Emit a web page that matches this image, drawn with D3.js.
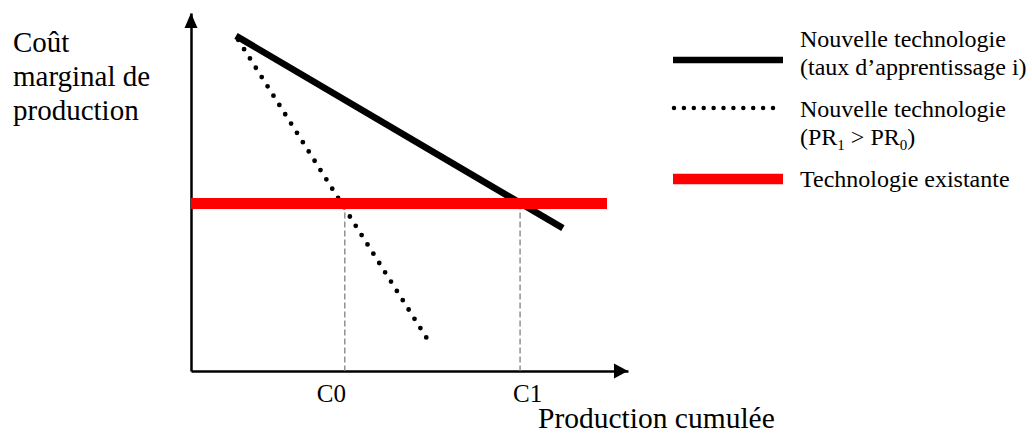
<!DOCTYPE html>
<html>
<head>
<meta charset="utf-8">
<script src="https://cdn.jsdelivr.net/npm/d3@7"></script>
<style>
  body { margin: 0; background: #fff; }
  text { font-family: "Liberation Serif", "Times New Roman", serif; fill: #000; }
</style>
</head>
<body>
<div id="chart"></div>
<script>
// values (abstract units, axis 0..10)
var xTicks = [3.52, 7.53];
var xTickLabels = ["C0", "C1"];
var newTech = [[1.03, 9.36], [8.51, 3.99]];        // taux d'apprentissage i
var newTechPR = [[1.08, 9.25], [5.45, 0.81]];      // PR1 > PR0
var existingTech = [[0, 4.68], [9.52, 4.68]];
var yTitle = ["Coût", "marginal de", "production"];
var xTitle = "Production cumulée";
var legendLabels = [
  ["Nouvelle technologie", "(taux d\u2019apprentissage i)"],
  ["Nouvelle technologie", "(PR1 > PR0)"],
  ["Technologie existante"]
];

var width = 1032, height = 435;
var serif = "Liberation Serif, Times New Roman, serif";

var x = d3.scaleLinear().domain([0, 10]).range([191, 628]);
var y = d3.scaleLinear().domain([0, 10]).range([371, 13]);

var svg = d3.select("#chart").append("svg")
    .attr("width", width)
    .attr("height", height);

svg.append("rect").attr("width", width).attr("height", height).attr("fill", "#fff");

var line = d3.line()
    .x(function(d) { return x(d[0]); })
    .y(function(d) { return y(d[1]); });

// axes
var xAxis = svg.append("g")
    .attr("transform", "translate(0," + y(0) + ")")
    .call(d3.axisBottom(x).tickValues(xTicks)
      .tickFormat(function(d, i) { return xTickLabels[i]; })
      .tickSize(0).tickSizeOuter(0));
xAxis.select(".domain").attr("stroke", "#000").attr("stroke-width", 2.5);
xAxis.selectAll(".tick text")
    .attr("y", 31).attr("dy", 0)
    .attr("dx", function(d, i) { return i == 0 ? -14 : 7; })
    .attr("fill", "#000")
    .style("font-size", "25px")
    .style("font-family", serif);

var yAxis = svg.append("g")
    .attr("transform", "translate(" + x(0) + ",0)")
    .call(d3.axisLeft(y).tickValues([]).tickSizeOuter(0));
yAxis.select(".domain").attr("stroke", "#000").attr("stroke-width", 2.5);

// arrow heads
svg.append("path")
    .attr("d", "M" + x(0) + "," + y(10) + "l-6.5,15h13z")
    .attr("fill", "#000");
svg.append("path")
    .attr("d", "M" + x(10) + "," + y(0) + "l-14,-7.5v15z")
    .attr("fill", "#000");

// dashed drop lines
svg.selectAll(".drop")
    .data(xTicks)
  .enter().append("line")
    .attr("class", "drop")
    .attr("x1", function(d) { return x(d); })
    .attr("x2", function(d) { return x(d); })
    .attr("y1", y(existingTech[0][1]))
    .attr("y2", y(0))
    .attr("stroke", "#808080")
    .attr("stroke-width", 1.3)
    .attr("stroke-dasharray", "6,3");

// curves
svg.append("path")
    .datum(newTechPR)
    .attr("d", line)
    .attr("fill", "none")
    .attr("stroke", "#000")
    .attr("stroke-width", 4.8)
    .attr("stroke-linecap", "round")
    .attr("stroke-dasharray", "0,11");

svg.append("path")
    .datum(newTech)
    .attr("d", line)
    .attr("fill", "none")
    .attr("stroke", "#000")
    .attr("stroke-width", 6.6);

svg.append("path")
    .datum(existingTech)
    .attr("d", line)
    .attr("fill", "none")
    .attr("stroke", "#ff0000")
    .attr("stroke-width", 11);

// axis titles
svg.append("text")
    .style("font-family", serif)
    .selectAll("tspan")
    .data(yTitle)
  .enter().append("tspan")
    .attr("x", 13)
    .attr("y", function(d, i) { return 52 + i * 34; })
    .style("font-size", "29px")
    .text(function(d) { return d; });

svg.append("text")
    .attr("x", 538)
    .attr("y", 428)
    .style("font-family", serif)
    .style("font-size", "29.5px")
    .text(xTitle);

// legend
var leg = svg.append("g");
leg.append("line")
    .attr("x1", 673).attr("x2", 783).attr("y1", 60).attr("y2", 60)
    .attr("stroke", "#000").attr("stroke-width", 6.5);
leg.append("line")
    .attr("x1", 674).attr("x2", 773).attr("y1", 108).attr("y2", 108)
    .attr("stroke", "#000").attr("stroke-width", 4.5)
    .attr("stroke-linecap", "round")
    .attr("stroke-dasharray", "0,9.9");
leg.append("line")
    .attr("x1", 673).attr("x2", 783).attr("y1", 179).attr("y2", 179)
    .attr("stroke", "#ff0000").attr("stroke-width", 10.5);

var legY = [[47, 75], [117, 145], [187]];
legendLabels.forEach(function(lines, k) {
  lines.forEach(function(t, j) {
    var txt = leg.append("text")
        .attr("x", 800)
        .attr("y", legY[k][j])
        .style("font-family", serif)
        .style("font-size", "24px");
    if (t.indexOf("PR1") >= 0) {
      // subscripts
      txt.append("tspan").text("(PR");
      txt.append("tspan").attr("dy", 5).style("font-size", "15px").text("1");
      txt.append("tspan").attr("dy", -5).text(" > PR");
      txt.append("tspan").attr("dy", 5).style("font-size", "15px").text("0");
      txt.append("tspan").attr("dy", -5).text(")");
    } else {
      txt.text(t);
    }
  });
});
</script>
</body>
</html>
